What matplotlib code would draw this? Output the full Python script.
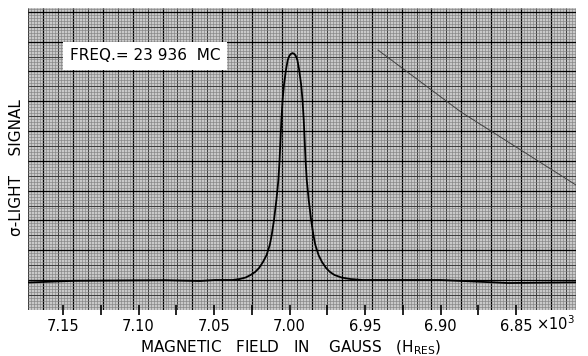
import matplotlib
matplotlib.use("Agg")
import numpy as np
import matplotlib.pyplot as plt
from matplotlib.collections import LineCollection

# sigma-light signal trace (field in kilogauss)
field_kG = [7.1732, 7.1421, 7.1123, 7.0825, 7.0593, 7.0493,
            7.0378, 7.0331, 7.0291, 7.0258, 7.0228, 7.0202, 7.0176, 7.0152,
            7.0131, 7.0118, 7.0103, 7.0087, 7.0074, 7.0066, 7.0060, 7.0054,
            7.0046, 7.0037, 7.0024, 7.0012, 7.0002, 6.9993, 6.9980,
            6.9967, 6.9958, 6.9948, 6.9936, 6.9923, 6.9914, 6.9906, 6.9900,
            6.9894, 6.9886, 6.9873, 6.9857, 6.9842, 6.9829, 6.9808, 6.9785,
            6.9758, 6.9732, 6.9702, 6.9656, 6.9596, 6.9516,
            6.9268, 6.9003, 6.8553, 6.8103]
signal = [0.917, 0.973, 0.983, 0.993, 0.967, 1.000,
          1.000, 1.033, 1.083, 1.167, 1.267, 1.400, 1.600, 1.833,
          2.167, 2.500, 3.000, 3.667, 4.333, 5.000, 5.667, 6.333,
          7.000, 7.500, 8.000, 8.333, 8.467, 8.533, 8.567,
          8.533, 8.467, 8.333, 8.000, 7.500, 7.000, 6.333, 5.667,
          5.000, 4.333, 3.667, 3.000, 2.500, 2.167, 1.833, 1.600,
          1.400, 1.267, 1.167, 1.083, 1.033, 1.000,
          1.000, 1.000, 0.900, 0.923]

# faint straight pen line in the upper right
diag_field = [6.9414, 6.8864, 6.8103]
diag_signal = [8.667, 6.600, 4.167]

major_ticks = [7.15, 7.10, 7.05, 7.00, 6.95, 6.90, 6.85]
minor_ticks = [7.125, 7.075, 7.025, 6.975, 6.925, 6.875]
tick_labels = ["7.15", "7.10", "7.05", "7.00", "6.95", "6.90", "6.85"]

plt.rcParams["font.family"] = ["DejaVu Sans"]
plt.rcParams["mathtext.fontset"] = "dejavusans"

W, H = 588, 356
fig = plt.figure(figsize=(W / 100, H / 100), dpi=100)
ax = fig.add_axes([28 / W, 46 / H, 548 / W, 302 / H])
ax.set_facecolor("#c9c9c9")
for sp in ax.spines.values():
    sp.set_visible(False)

# graph paper grid, drawn in axes fraction (pixels of the paper area)
pw, ph = 548.0, 302.0
segs, cols, lws = [], [], []
def paper_style(k):
    if k % 10 == 0:
        return "black", 0.9
    if k % 5 == 0:
        return "#3c3c3c", 0.7
    return "#828282", 0.45

for k in range(-5, 179):
    px = 15 + 2.988 * k
    if 0 <= px <= pw:
        segs.append([(px / pw, 0), (px / pw, 1)])
        c, w = paper_style(k)
        cols.append(c); lws.append(w)
for k in range(-9, 92):
    py = 30 + 2.98 * k
    if 0 <= py <= ph:
        segs.append([(0, py / ph), (1, py / ph)])
        c, w = paper_style(k)
        cols.append(c); lws.append(w)
ax.add_collection(LineCollection(segs, colors=cols, linewidths=lws,
                                 transform=ax.transAxes, zorder=0.5))

ax.plot(field_kG, signal, color="black", lw=1.3, zorder=3)
ax.plot(diag_field, diag_signal, color="#404040", lw=0.7, zorder=2)

ax.set_xlim(7.1732, 6.8103)
ax.set_ylim(0, 10.07)
ax.set_yticks([])
ax.set_xticks(major_ticks)
ax.set_xticklabels(tick_labels)
ax.set_xticks(minor_ticks, minor=True)
ax.tick_params(axis="x", which="both", direction="inout", length=7, width=1.2,
               color="black", pad=3, labelsize=10.5)

ax.text(1.0 - 40 / pw, -20 / ph, "\u00d710$^3$", transform=ax.transAxes,
        fontsize=10.5, ha="left", va="baseline")

ax.set_xlabel("MAGNETIC   FIELD   IN    GAUSS   (H$_{\\mathrm{RES}}$)", fontsize=11)
ax.xaxis.set_label_coords((291 - 28) / pw, (310 - 339) / ph)
ax.set_ylabel("\u03c3-LIGHT    SIGNAL", fontsize=11)
ax.yaxis.set_label_coords(-4 / pw, (310 - 168) / ph)

ax.text(117 / pw, 254 / ph, "FREQ.= 23 936  MC", transform=ax.transAxes,
        fontsize=11, ha="center", va="center", zorder=5,
        bbox=dict(boxstyle="square,pad=0.45", facecolor="white", edgecolor="none"))

fig.savefig("out.png", dpi=100)
